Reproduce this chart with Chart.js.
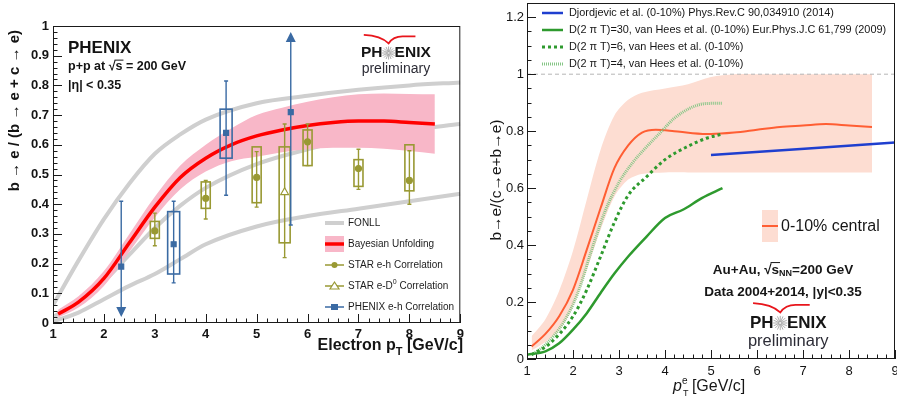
<!DOCTYPE html>
<html>
<head>
<meta charset="utf-8">
<script src="https://cdn.jsdelivr.net/npm/chart.js@4.4.1/dist/chart.umd.min.js"></script>
<style>
  html, body { margin: 0; padding: 0; background: #fff; }
  #wrap { position: relative; width: 897px; height: 405px; overflow: hidden; }
  .panel { position: absolute; top: 0; height: 405px; }
  #left { left: 0; width: 466px; }
  #right { left: 466px; width: 431px; }
</style>
</head>
<body>
<div id="wrap">
  <div class="panel" id="left"><canvas id="chartPP"></canvas></div>
  <div class="panel" id="right"><canvas id="chartAuAu"></canvas></div>
</div>
<script>
// ---------- p+p panel (left) ----------
const ppXTicks = [1, 2, 3, 4, 5, 6, 7, 8, 9];
const ppYTicks = [0, 0.1, 0.2, 0.3, 0.4, 0.5, 0.6, 0.7, 0.8, 0.9, 1];

const fonllPt   = [1, 1.5, 2, 2.5, 3, 3.5, 4, 5, 6, 7, 8, 9];
const fonllHigh = [0.06, 0.21, 0.35, 0.47, 0.57, 0.635, 0.685, 0.74, 0.765, 0.785, 0.80, 0.81];
const fonllMid  = [0.02, 0.07, 0.14, 0.23, 0.32, 0.395, 0.455, 0.535, 0.585, 0.625, 0.65, 0.67];
const fonllLow  = [0.005, 0.035, 0.08, 0.125, 0.165, 0.215, 0.265, 0.325, 0.36, 0.385, 0.41, 0.435];

const bayesPt  = [1.1, 1.5, 2, 2.5, 3, 3.5, 4, 4.5, 5, 5.5, 6, 6.5, 7, 7.5, 8, 8.5];
const bayesMid = [0.03, 0.07, 0.15, 0.27, 0.39, 0.49, 0.555, 0.60, 0.63, 0.65, 0.665, 0.675, 0.68, 0.68, 0.675, 0.67];
const bayesHi  = [0.045, 0.09, 0.175, 0.30, 0.425, 0.53, 0.60, 0.655, 0.70, 0.725, 0.745, 0.76, 0.77, 0.773, 0.771, 0.77];
const bayesLo  = [0.018, 0.052, 0.125, 0.24, 0.355, 0.45, 0.51, 0.545, 0.56, 0.575, 0.585, 0.59, 0.59, 0.587, 0.579, 0.57];

const starPt    = [3, 4, 5, 6, 7, 8];
const starVal   = [0.31, 0.42, 0.49, 0.61, 0.52, 0.48];
const starErrLo = [0.26, 0.35, 0.39, 0.53, 0.45, 0.40];
const starErrHi = [0.37, 0.48, 0.577, 0.67, 0.585, 0.58];
const starSysLo = [0.285, 0.386, 0.405, 0.53, 0.46, 0.445];
const starSysHi = [0.342, 0.475, 0.593, 0.65, 0.55, 0.60];

const starD0Pt    = [5.55];
const starD0Val   = [0.44];
const starD0ErrLo = [0.22];
const starD0ErrHi = [0.67];
const starD0SysLo = [0.27];
const starD0SysHi = [0.593];

const phxPt    = [2.34, 3.37, 4.4, 5.67];
const phxVal   = [0.19, 0.265, 0.64, 0.71];
const phxErrLo = [0.02, 0.135, 0.43, 0.33];
const phxErrHi = [0.41, 0.41, 0.815, 0.98];
const phxSysLo = [null, 0.165, 0.555, null];
const phxSysHi = [null, 0.375, 0.72, null];
const phxLimit = ['down', null, null, 'up'];

// ---------- Au+Au panel (right) ----------
const auXTicks = [1, 2, 3, 4, 5, 6, 7, 8, 9];
const auYTicks = [0, 0.2, 0.4, 0.6, 0.8, 1, 1.2];

const dataPt   = [1.1, 1.4, 1.7, 2.0, 2.3, 2.6, 2.9, 3.2, 3.5, 3.8, 4.2, 4.6, 5.0, 5.5, 6.0, 6.5, 7.0, 7.5, 8.0, 8.5];
const dataVal  = [0.044, 0.088, 0.15, 0.243, 0.384, 0.53, 0.67, 0.75, 0.795, 0.805, 0.80, 0.793, 0.79, 0.795, 0.805, 0.815, 0.82, 0.825, 0.82, 0.815];
const bandPt   = [1.1, 1.4, 1.7, 2.0, 2.3, 2.6, 2.9, 3.2, 3.5, 4.0, 4.5, 5.0, 5.5, 6.0, 7.0, 8.0, 8.5];
const bandHi   = [0.08, 0.14, 0.24, 0.38, 0.56, 0.735, 0.855, 0.91, 0.935, 0.95, 0.965, 0.99, 1.0, 1.0, 1.0, 1.0, 1.0];
const bandLo   = [0.03, 0.06, 0.10, 0.185, 0.313, 0.454, 0.57, 0.63, 0.65, 0.655, 0.655, 0.655, 0.655, 0.655, 0.655, 0.655, 0.655];

const djPt  = [5.0, 9.0];
const djVal = [0.716, 0.76];
const vh30Pt  = [1.0, 1.4, 1.7, 2.0, 2.3, 2.6, 2.9, 3.2, 3.6, 4.0, 4.4, 4.8, 5.25];
const vh30Val = [0.015, 0.027, 0.055, 0.103, 0.161, 0.232, 0.30, 0.36, 0.43, 0.495, 0.525, 0.565, 0.60];
const vh6Pt   = [1.1, 1.5, 2.0, 2.3, 2.6, 2.9, 3.2, 3.6, 4.0, 4.5, 4.9, 5.25];
const vh6Val  = [0.015, 0.055, 0.15, 0.243, 0.36, 0.48, 0.575, 0.64, 0.70, 0.747, 0.775, 0.79];
const vh4Pt   = [1.1, 1.4, 1.8, 2.1, 2.4, 2.7, 3.0, 3.3, 3.6, 3.9, 4.2, 4.6, 4.9, 5.25];
const vh4Val  = [0.015, 0.05, 0.13, 0.23, 0.38, 0.52, 0.62, 0.69, 0.745, 0.795, 0.845, 0.885, 0.897, 0.898];
const unityPt  = [1, 9];
const unityVal = [1, 1];

const FONT = '"Liberation Sans", Arial, Helvetica, sans-serif';
const olive = '#999933';
const phxBlue = '#3a6aa3';
const fonllGrey = '#cfcfcf';
const pink = '#f8b7c8';

function pts(xs, ys) {
  return xs.map((x, i) => ({ x: x, y: ys[i] }));
}

function curve(label, xs, ys, color, width, order, extra) {
  return Object.assign({
    label: label,
    data: pts(xs, ys),
    borderColor: color,
    backgroundColor: color,
    borderWidth: width,
    pointRadius: 0,
    fill: false,
    cubicInterpolationMode: 'monotone',
    order: order,
  }, extra || {});
}

function markers(label, xs, ys, color, style, radius, fillColor) {
  return {
    label: label,
    data: pts(xs, ys),
    showLine: false,
    pointStyle: style,
    pointRadius: radius,
    pointBackgroundColor: fillColor || color,
    pointBorderColor: color,
    pointBorderWidth: 1.2,
    borderColor: color,
    backgroundColor: color,
    order: 1,
  };
}

function fixedAxis(size, vertical) {
  return function (scale) {
    if (vertical) scale.width = size;
    else scale.height = size;
    scale.paddingTop = 0;
    scale.paddingBottom = 0;
    scale.paddingLeft = 0;
    scale.paddingRight = 0;
  };
}

function useTicks(list) {
  return function (scale) {
    scale.ticks = list.map((v) => ({ value: v }));
  };
}

// ROOT style frame with ticks pointing inwards
function drawFrame(chart, o) {
  const { ctx, chartArea: a } = chart;
  const x = chart.scales.x, y = chart.scales.y;
  ctx.save();
  ctx.strokeStyle = '#1a1a1a';
  ctx.lineWidth = 1;
  ctx.strokeRect(a.left + 0.5, a.top + 0.5, a.right - a.left - 1, a.bottom - a.top - 1);
  ctx.beginPath();
  const ny = Math.round((y.max - y.min) / o.yMinor);
  for (let i = 0; i <= ny; i++) {
    const v = y.min + i * o.yMinor;
    const major = Math.abs(v / o.yMajor - Math.round(v / o.yMajor)) < 1e-6;
    const py = Math.round(y.getPixelForValue(v)) + 0.5;
    ctx.moveTo(a.left, py);
    ctx.lineTo(a.left + (major ? o.majLen : o.minLen), py);
  }
  const nx = Math.round((x.max - x.min) / o.xMinor);
  for (let i = 0; i <= nx; i++) {
    const v = x.min + i * o.xMinor;
    const major = Math.abs(v / o.xMajor - Math.round(v / o.xMajor)) < 1e-6;
    const px = Math.round(x.getPixelForValue(v)) + 0.5;
    ctx.moveTo(px, a.bottom);
    ctx.lineTo(px, a.bottom - (major ? o.majLen : o.minLen));
  }
  ctx.stroke();
  ctx.restore();
}

function drawErrors(chart, g) {
  const { ctx } = chart;
  const x = chart.scales.x, y = chart.scales.y;
  ctx.save();
  ctx.strokeStyle = g.color;
  ctx.fillStyle = g.color;
  ctx.lineWidth = 1.6;
  g.pt.forEach((p, i) => {
    const px = x.getPixelForValue(p);
    if (g.sysLo && g.sysLo[i] != null) {
      const t = y.getPixelForValue(g.sysHi[i]);
      const b = y.getPixelForValue(g.sysLo[i]);
      ctx.lineWidth = 1.6;
      ctx.strokeRect(px - g.half, t, 2 * g.half, b - t);
    }
    const lim = g.limit ? g.limit[i] : null;
    const lo = y.getPixelForValue(g.errLo[i]);
    const hi = y.getPixelForValue(g.errHi[i]);
    ctx.lineWidth = 1.4;
    ctx.beginPath();
    ctx.moveTo(px, lim === 'down' ? lo - 8 : lo);
    ctx.lineTo(px, lim === 'up' ? hi + 8 : hi);
    if (lim !== 'down') { ctx.moveTo(px - 2, lo); ctx.lineTo(px + 2, lo); }
    if (lim !== 'up') { ctx.moveTo(px - 2, hi); ctx.lineTo(px + 2, hi); }
    ctx.stroke();
    if (lim) {
      const tip = lim === 'down' ? lo : hi;
      const dir = lim === 'down' ? -1 : 1;
      ctx.beginPath();
      ctx.moveTo(px, tip);
      ctx.lineTo(px - 5, tip + dir * 10);
      ctx.lineTo(px + 5, tip + dir * 10);
      ctx.closePath();
      ctx.fill();
    }
  });
  ctx.restore();
}

function drawLogo(ctx, x0, yc, size, yPre, preSize) {
  ctx.save();
  ctx.font = 'bold ' + size + 'px ' + FONT;
  ctx.textBaseline = 'middle';
  ctx.textAlign = 'left';
  ctx.fillStyle = '#151515';
  const wPH = ctx.measureText('PH').width;
  const wEnix = ctx.measureText('ENIX').width;
  const gap = size * 0.78;
  const total = wPH + gap + wEnix;
  ctx.fillText('PH', x0, yc);
  ctx.fillText('ENIX', x0 + wPH + gap, yc);
  const sx = x0 + wPH + gap / 2;
  ctx.strokeStyle = '#9a9a9a';
  ctx.lineWidth = 0.8;
  ctx.beginPath();
  for (let k = 0; k < 16; k++) {
    const an = (k / 16) * Math.PI * 2;
    const r = size * 0.42;
    ctx.moveTo(sx + Math.cos(an) * r * 0.15, yc + Math.sin(an) * r * 0.15);
    ctx.lineTo(sx + Math.cos(an) * r, yc + Math.sin(an) * r);
  }
  ctx.stroke();
  const top = yc - size * 0.62;
  ctx.strokeStyle = '#e8161c';
  ctx.lineWidth = 1.8;
  ctx.beginPath();
  ctx.moveTo(x0 + total * 0.04, top - size * 0.55);
  ctx.quadraticCurveTo(sx - size * 0.5, top - size * 0.5, sx, top);
  ctx.quadraticCurveTo(sx + size * 0.3, top - size * 0.45, sx + size * 0.9, top - size * 0.45);
  ctx.lineTo(x0 + total * 0.78, top - size * 0.45);
  ctx.stroke();
  ctx.font = preSize + 'px ' + FONT;
  ctx.fillStyle = '#2c2c36';
  ctx.textAlign = 'center';
  ctx.fillText('preliminary', x0 + total / 2, yPre);
  ctx.restore();
}

// draws a run of text pieces: {t, size, bold, italic, dy, over}
function drawRuns(ctx, runs, x, y, align) {
  const fontOf = (r) => (r.italic ? 'italic ' : '') + (r.bold ? 'bold ' : '') + r.size + 'px ' + FONT;
  let total = 0;
  runs.forEach((r) => { ctx.font = fontOf(r); r.w = ctx.measureText(r.t).width; total += r.w; });
  let cx = align === 'center' ? x - total / 2 : align === 'right' ? x - total : x;
  ctx.textAlign = 'left';
  ctx.textBaseline = 'middle';
  runs.forEach((r) => {
    ctx.font = fontOf(r);
    ctx.fillText(r.t, cx, y + (r.dy || 0));
    if (r.over) {
      ctx.save();
      ctx.lineWidth = 1;
      ctx.strokeStyle = ctx.fillStyle;
      ctx.beginPath();
      ctx.moveTo(cx - 1, y - r.size * 0.55);
      ctx.lineTo(cx + r.w + 1, y - r.size * 0.55);
      ctx.stroke();
      ctx.restore();
    }
    cx += r.w;
  });
  return total;
}

// ---------- left chart ----------
const ppDecor = {
  id: 'ppDecor',
  afterDatasetDraw(chart, args) {
    if (args.index !== 5) return;
    drawErrors(chart, { pt: starPt, errLo: starErrLo, errHi: starErrHi, sysLo: starSysLo, sysHi: starSysHi, color: olive, half: 4.5 });
    drawErrors(chart, { pt: starD0Pt, errLo: starD0ErrLo, errHi: starD0ErrHi, sysLo: starD0SysLo, sysHi: starD0SysHi, color: olive, half: 5.5 });
    drawErrors(chart, { pt: phxPt, errLo: phxErrLo, errHi: phxErrHi, sysLo: phxSysLo, sysHi: phxSysHi, limit: phxLimit, color: phxBlue, half: 6 });
  },
  afterDraw(chart) {
    const ctx = chart.ctx;
    drawFrame(chart, { yMajor: 0.1, yMinor: 0.02, xMajor: 1, xMinor: 0.2, majLen: 9, minLen: 4.5 });
    ctx.save();
    ctx.fillStyle = '#141414';
    // labels in the frame
    drawRuns(ctx, [{ t: 'PHENIX', size: 17, bold: true }], 68, 48, 'left');
    drawRuns(ctx, [
      { t: 'p+p at ', size: 12.5, bold: true },
      { t: '\u221A', size: 12.5, bold: true },
      { t: 's', size: 12.5, bold: true, over: true },
      { t: ' = 200 GeV', size: 12.5, bold: true },
    ], 68, 67, 'left');
    drawRuns(ctx, [{ t: '|\u03B7| < 0.35', size: 12.5, bold: true }], 68, 86, 'left');
    // axis titles
    drawRuns(ctx, [
      { t: 'Electron p', size: 16, bold: true },
      { t: 'T', size: 11, bold: true, dy: 6 },
      { t: ' [GeV/c]', size: 16, bold: true },
    ], 463, 346, 'right');
    ctx.save();
    ctx.translate(15, 30);
    ctx.rotate(-Math.PI / 2);
    drawRuns(ctx, [{ t: 'b \u2192 e / (b \u2192 e + c \u2192 e)', size: 15, bold: true }], 0, 0, 'right');
    ctx.restore();
    ctx.restore();

    // legend
    const ds = chart.data.datasets;
    const rows = [223, 244, 265, 286, 307];
    const entries = [ds[1], ds[5], ds[6], ds[7], ds[8]];
    ctx.save();
    entries.forEach((d, i) => {
      const yy = rows[i];
      if (i === 1) {
        ctx.fillStyle = pink;
        ctx.fillRect(325, yy - 8, 19, 16);
      }
      ctx.strokeStyle = d.borderColor;
      ctx.lineWidth = i === 0 ? 4 : i === 1 ? 3.5 : 1.5;
      ctx.beginPath();
      ctx.moveTo(325, yy);
      ctx.lineTo(344, yy);
      ctx.stroke();
      if (i >= 2) {
        ctx.fillStyle = d.pointBackgroundColor;
        ctx.strokeStyle = d.pointBorderColor;
        ctx.lineWidth = 1.2;
        ctx.beginPath();
        if (d.pointStyle === 'triangle') {
          ctx.moveTo(334.5, yy - 4); ctx.lineTo(330, yy + 3); ctx.lineTo(339, yy + 3); ctx.closePath();
          ctx.fill(); ctx.stroke();
        } else if (d.pointStyle === 'rect') {
          ctx.fillRect(331, yy - 3, 7, 6);
        } else {
          ctx.arc(334.5, yy, 3, 0, Math.PI * 2); ctx.fill();
        }
      }
      ctx.fillStyle = '#1c1c1c';
      ctx.font = '10px ' + FONT;
      ctx.textAlign = 'left';
      ctx.textBaseline = 'middle';
      if (i === 3) {
        drawRuns(ctx, [
          { t: 'STAR e-D', size: 10 },
          { t: '0', size: 7, dy: -4 },
          { t: ' Correlation', size: 10 },
        ], 348, yy, 'left');
      } else {
        ctx.fillText(d.label, 348, yy);
      }
    });
    ctx.restore();
    drawLogo(ctx, 361, 53, 15.5, 69, 14);
  },
};

new Chart(document.getElementById('chartPP'), {
  type: 'line',
  data: {
    datasets: [
      curve('FONLL upper', fonllPt, fonllHigh, fonllGrey, 4, 5),
      curve('FONLL', fonllPt, fonllMid, fonllGrey, 4, 5),
      curve('FONLL lower', fonllPt, fonllLow, fonllGrey, 4, 5),
      curve('Bayesian upper', bayesPt, bayesHi, pink, 0, 4, { fill: '+1', backgroundColor: pink }),
      curve('Bayesian lower', bayesPt, bayesLo, pink, 0, 4),
      curve('Bayesian Unfolding', bayesPt, bayesMid, '#ff0000', 3.5, 3),
      markers('STAR e-h Correlation', starPt, starVal, olive, 'circle', 3),
      markers('STAR e-D0 Correlation', starD0Pt, starD0Val, olive, 'triangle', 4.5, '#ffffff'),
      markers('PHENIX e-h Correlation', phxPt, phxVal, phxBlue, 'rect', 3.5),
    ],
  },
  options: {
    responsive: true,
    maintainAspectRatio: false,
    animation: false,
    events: [],
    layout: { padding: { left: 0, right: 2, top: 26, bottom: 0 } },
    plugins: { legend: { display: false }, tooltip: { enabled: false } },
    scales: {
      x: {
        type: 'linear', min: 1, max: 9,
        afterBuildTicks: useTicks(ppXTicks),
        afterFit: fixedAxis(82, false),
        grid: { display: false, drawTicks: false },
        border: { display: false },
        ticks: { padding: 4, color: '#141414', font: { family: FONT, size: 13, weight: 'bold' }, maxRotation: 0 },
      },
      y: {
        type: 'linear', min: 0, max: 1,
        afterBuildTicks: useTicks(ppYTicks),
        afterFit: fixedAxis(53, true),
        grid: { display: false, drawTicks: false },
        border: { display: false },
        ticks: { padding: 4, color: '#141414', font: { family: FONT, size: 13, weight: 'bold' }, callback: (v) => String(v) },
      },
    },
  },
  plugins: [ppDecor],
});

// ---------- right chart ----------
const auDecor = {
  id: 'auDecor',
  afterDraw(chart) {
    const ctx = chart.ctx;
    drawFrame(chart, { yMajor: 0.2, yMinor: 0.05, xMajor: 1, xMinor: 0.2, majLen: 9, minLen: 4.5 });
    const ds = chart.data.datasets;
    ctx.save();
    // model legend
    const rows = [13, 30, 47, 64];
    [ds[4], ds[5], ds[6], ds[7]].forEach((d, i) => {
      ctx.strokeStyle = d.borderColor;
      ctx.lineWidth = d.borderWidth;
      ctx.setLineDash(d.borderDash || []);
      ctx.beginPath();
      ctx.moveTo(76, rows[i]);
      ctx.lineTo(97, rows[i]);
      ctx.stroke();
      ctx.setLineDash([]);
      ctx.fillStyle = '#161616';
      ctx.font = '10.9px ' + FONT;
      ctx.textAlign = 'left';
      ctx.textBaseline = 'middle';
      ctx.fillText(d.label, 103, rows[i]);
    });
    // data legend
    ctx.fillStyle = '#fdddd2';
    ctx.fillRect(296, 210, 16, 32);
    ctx.strokeStyle = ds[3].borderColor;
    ctx.lineWidth = 2;
    ctx.beginPath();
    ctx.moveTo(296, 226);
    ctx.lineTo(312, 226);
    ctx.stroke();
    ctx.fillStyle = '#161616';
    drawRuns(ctx, [{ t: ds[3].label, size: 16 }], 315, 227, 'left');
    // system labels
    drawRuns(ctx, [
      { t: 'Au+Au, ', size: 13.5, bold: true },
      { t: '\u221A', size: 13.5, bold: true },
      { t: 's', size: 13.5, bold: true, over: true },
      { t: 'NN', size: 9, bold: true, dy: 4 },
      { t: '=200 GeV', size: 13.5, bold: true },
    ], 317, 270, 'center');
    drawRuns(ctx, [{ t: 'Data 2004+2014, |y|<0.35', size: 13.5, bold: true }], 317, 292, 'center');
    // axis titles
    drawRuns(ctx, [
      { t: 'p', size: 16, italic: true },
      { t: 'e', size: 10, dy: -6 },
      { t: ' [GeV/c]', size: 16 },
    ], 207, 387, 'left');
    ctx.fillStyle = '#161616';
    ctx.font = '9px ' + FONT;
    ctx.textAlign = 'left';
    ctx.textBaseline = 'middle';
    ctx.fillText('T', 217, 394);
    ctx.translate(31, 180);
    ctx.rotate(-Math.PI / 2);
    ctx.fillStyle = '#161616';
    drawRuns(ctx, [{ t: 'b\u2192e/(c\u2192e+b\u2192e)', size: 15.5 }], 0, 0, 'center');
    ctx.restore();
    drawLogo(ctx, 284, 323, 17, 341, 16.5);
  },
};

new Chart(document.getElementById('chartAuAu'), {
  type: 'line',
  data: {
    datasets: [
      curve('band upper', bandPt, bandHi, '#fdddd2', 0, 6, { fill: '+1', backgroundColor: '#fdddd2', cubicInterpolationMode: 'default', tension: 0.3 }),
      curve('band lower', bandPt, bandLo, '#fdddd2', 0, 6, { cubicInterpolationMode: 'default', tension: 0.3 }),
      curve('unity', unityPt, unityVal, '#b5b5b5', 1, 5, { borderDash: [4, 3] }),
      curve('0-10% central', dataPt, dataVal, '#ff5e33', 2, 2),
      curve('Djordjevic et al. (0-10%) Phys.Rev.C 90,034910 (2014)', djPt, djVal, '#1f3fcf', 2.5, 1),
      curve('D(2 \u03C0 T)=30, van Hees et al. (0-10%) Eur.Phys.J.C 61,799 (2009)', vh30Pt, vh30Val, '#2e9a2e', 2.5, 1),
      curve('D(2 \u03C0 T)=6, van Hees et al. (0-10%)', vh6Pt, vh6Val, '#2e9a2e', 3, 1, { borderDash: [3, 3] }),
      curve('D(2 \u03C0 T)=4, van Hees et al. (0-10%)', vh4Pt, vh4Val, '#86c686', 3, 1, { borderDash: [1, 1] }),
    ],
  },
  options: {
    responsive: true,
    maintainAspectRatio: false,
    animation: false,
    events: [],
    layout: { padding: { left: 0, right: 2, top: 3, bottom: 0 } },
    plugins: { legend: { display: false }, tooltip: { enabled: false } },
    scales: {
      x: {
        type: 'linear', min: 1, max: 9,
        afterBuildTicks: useTicks(auXTicks),
        afterFit: fixedAxis(46, false),
        grid: { display: false, drawTicks: false },
        border: { display: false },
        ticks: { padding: 5, color: '#141414', font: { family: FONT, size: 13 }, maxRotation: 0 },
      },
      y: {
        type: 'linear', min: 0, max: 1.25,
        afterBuildTicks: useTicks(auYTicks),
        afterFit: fixedAxis(61, true),
        grid: { display: false, drawTicks: false },
        border: { display: false },
        ticks: { padding: 3, color: '#141414', font: { family: FONT, size: 13 }, callback: (v) => String(v) },
      },
    },
  },
  plugins: [auDecor],
});
</script>
</body>
</html>
